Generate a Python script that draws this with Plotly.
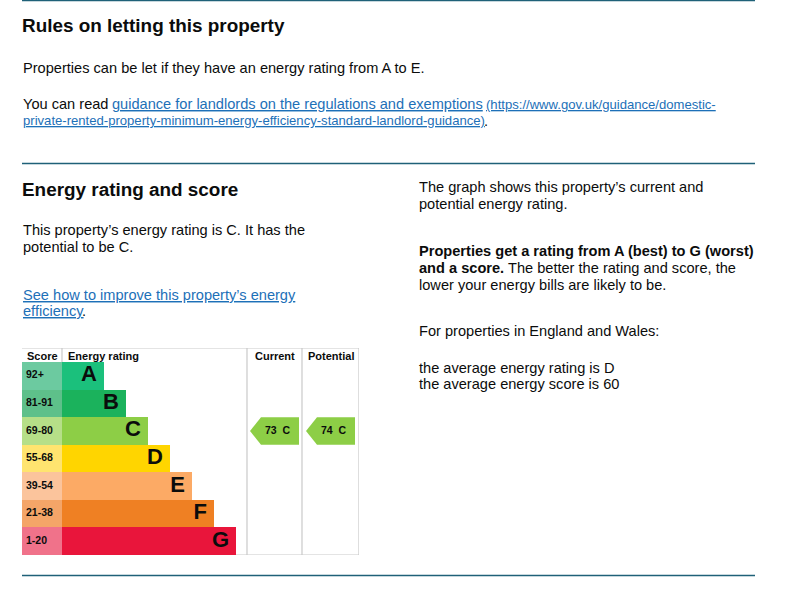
import plotly.graph_objects as go

# ---------------- data ----------------
bands = ["A", "B", "C", "D", "E", "F", "G"]
score_ranges = ["92+", "81-91", "69-80", "55-68", "39-54", "21-38", "1-20"]
band_min_score = [92, 81, 69, 55, 39, 21, 1]
band_rank = [1, 2, 3, 4, 5, 6, 7]
band_colors = ["#1bc07c", "#1bb25c", "#8dce46", "#ffd500", "#fcaa65", "#ef8023", "#e9153b"]
score_colors = ["#6ccaa0", "#5ec08a", "#b6df88", "#ffe46f", "#fbc49c", "#f4a568", "#f0728a"]
column_names = ["Current", "Potential"]
column_scores = [73, 74]

W, H = 800, 598
FONT = "Arial, Liberation Sans, Helvetica, sans-serif"
LINK = "#1d70b8"
TEXT = "#0b0c0c"
GRID = "#c9c9c9"
RULE = "#1f6178"
BODY = 14.6
URL = 13.1
HEAD = 18.9


def band_of(score):
    for i, m in enumerate(band_min_score):
        if score >= m:
            return i
    return len(bands) - 1


fig = go.Figure()

# chart geometry in local units (1 unit = 1 px), chart spans 22..359 px
score_w = 40
bar_step = 22
bar_extra = 20
col_edges = [225, 280, 337]
row_px = (555 - 362) / 7
header_rows = 14 / row_px

# score column cells
fig.add_trace(go.Bar(
    y=list(range(len(bands))), x=[score_w] * len(bands), base=0, orientation="h",
    marker=dict(color=score_colors, line=dict(width=0)), width=1,
    xaxis="x2", yaxis="y2", hoverinfo="skip", showlegend=False))
# rating bars
bar_len = [bar_extra + bar_step * r for r in band_rank]
fig.add_trace(go.Bar(
    y=list(range(len(bands))), x=bar_len, base=score_w, orientation="h",
    marker=dict(color=band_colors, line=dict(width=0)), width=1,
    xaxis="x2", yaxis="y2", hoverinfo="skip", showlegend=False))
# score range labels
fig.add_trace(go.Scatter(
    x=[4] * len(bands), y=list(range(len(bands))), mode="text",
    text=["<b>%s</b>" % s for s in score_ranges], textposition="middle right",
    textfont=dict(family=FONT, size=10.5, color=TEXT),
    xaxis="x2", yaxis="y2", hoverinfo="skip", showlegend=False))
# band letters
fig.add_trace(go.Scatter(
    x=[score_w + L - 7 for L in bar_len], y=list(range(len(bands))), mode="text",
    text=["<b>%s</b>" % b for b in bands], textposition="middle left",
    textfont=dict(family=FONT, size=22, color=TEXT),
    xaxis="x2", yaxis="y2", hoverinfo="skip", showlegend=False))

# current / potential arrows
for ci, (name, sc) in enumerate(zip(column_names, column_scores)):
    left, right = col_edges[ci], col_edges[ci + 1]
    r = band_of(sc)
    tip = left + 3 + ci
    body = tip + 11
    rr = right - 3 - ci
    fig.add_trace(go.Scatter(
        x=[tip, body, rr, rr, body, tip],
        y=[r, r - 0.5, r - 0.5, r + 0.5, r + 0.5, r],
        fill="toself", fillcolor=band_colors[r], mode="lines", line=dict(width=0),
        xaxis="x2", yaxis="y2", hoverinfo="skip", showlegend=False))
    fig.add_trace(go.Scatter(
        x=[(tip + rr) / 2 + 3], y=[r], mode="text",
        text=["<b>%d\u00a0\u00a0%s</b>" % (sc, bands[r])], textposition="middle center",
        textfont=dict(family=FONT, size=10.5, color=TEXT),
        xaxis="x2", yaxis="y2", hoverinfo="skip", showlegend=False))

top = -0.5 - header_rows
bottom = len(bands) - 0.5
shapes = []
shapes.append(dict(type="line", xref="x2", yref="y2", x0=0, x1=col_edges[-1], y0=top, y1=top,
                   line=dict(color=GRID, width=1.2)))
shapes.append(dict(type="line", xref="x2", yref="y2", x0=bar_len[-1] + score_w, x1=col_edges[-1],
                   y0=bottom, y1=bottom, line=dict(color=GRID, width=1.2)))
shapes.append(dict(type="line", xref="x2", yref="y2", x0=score_w, x1=score_w, y0=top, y1=-0.5,
                   line=dict(color=GRID, width=1.2)))
for xe in col_edges:
    shapes.append(dict(type="line", xref="x2", yref="y2", x0=xe, x1=xe, y0=top, y1=bottom,
                       line=dict(color=GRID, width=1.2)))


def px(x):
    return x / W


def py(y):
    return 1 - y / H


# horizontal rules
for yy in [0.5, 163.5, 575.5]:
    shapes.append(dict(type="line", xref="paper", yref="paper", x0=px(22), x1=px(755),
                       y0=py(yy), y1=py(yy), line=dict(color=RULE, width=1.4)))

ann = []


def text(x, y, s, size=BODY, color=TEXT, anchor="left", under=False):
    f = dict(family=FONT, size=size, color=color)
    if under:
        f["lineposition"] = "under"
    ann.append(dict(xref="paper", yref="paper", x=px(x), y=py(y), text=s, showarrow=False,
                    xanchor=anchor, yanchor="middle", font=f, align="left"))


# chart headers
chart_hdr_y = 355.5
text(25, chart_hdr_y, "<b>Score</b>", size=11)
text(66, chart_hdr_y, "<b>Energy rating</b>", size=11)
text(22 + (col_edges[0] + col_edges[1]) / 2, chart_hdr_y, "<b>Current</b>", size=11, anchor="center")
text(22 + (col_edges[1] + col_edges[2]) / 2, chart_hdr_y, "<b>Potential</b>", size=11, anchor="center")

# page text
text(20, 26, "<b>Rules on letting this property</b>", size=HEAD)
text(21, 68, "Properties can be let if they have an energy rating from A to E.")
text(21, 104, "You can read")
text(110, 104, "guidance for landlords on the regulations and exemptions", color=LINK, under=True)
text(484, 104, "(https://www.gov.uk/guidance/domestic-", size=URL, color=LINK, under=True)
text(21, 121, "private-rented-property-minimum-energy-efficiency-standard-landlord-guidance)",
     size=URL, color=LINK, under=True)
text(482, 121, ".")

text(20, 189, "<b>Energy rating and score</b>", size=HEAD)
text(21, 230, "This property\u2019s energy rating is C. It has the")
text(21, 247, "potential to be C.")
text(21, 295, "See how to improve this property\u2019s energy", color=LINK, under=True)
text(21, 311, "efficiency", color=LINK, under=True)
text(80, 311, ".")

text(417, 187, "The graph shows this property\u2019s current and")
text(417, 204, "potential energy rating.")
text(417, 251, "<b>Properties get a rating from A (best) to G (worst)</b>")
text(417, 268, "<b>and a score.</b> The better the rating and score, the")
text(417, 285, "lower your energy bills are likely to be.")
text(417, 331, "For properties in England and Wales:")
text(417, 368, "the average energy rating is D")
text(417, 384, "the average energy score is 60")

fig.update_layout(
    width=W, height=H, margin=dict(l=0, r=0, t=0, b=0),
    paper_bgcolor="white", plot_bgcolor="rgba(0,0,0,0)",
    barmode="overlay", bargap=0, showlegend=False,
    xaxis=dict(visible=False), yaxis=dict(visible=False),
    xaxis2=dict(domain=[px(22), px(359)], range=[0, 337], visible=False, anchor="y2", fixedrange=True),
    yaxis2=dict(domain=[py(555), py(348)], range=[bottom, top], visible=False, anchor="x2", fixedrange=True),
    shapes=shapes, annotations=ann,
)

fig.write_html("out.html", config={"displayModeBar": False, "staticPlot": True},
               post_script="document.body.style.margin='0';document.body.style.overflow='hidden';")
